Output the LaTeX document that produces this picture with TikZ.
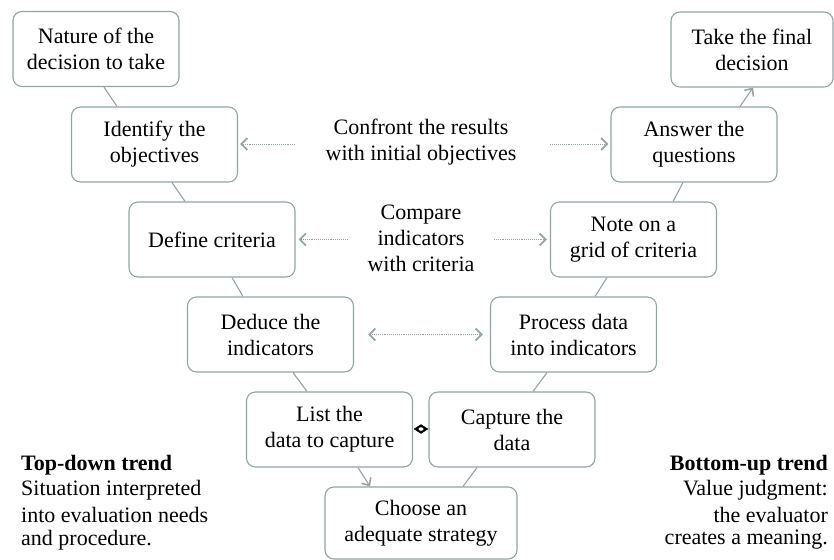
\documentclass[tikz,border=0pt]{standalone}
\usepackage{fontspec}
\newfontfamily\tnr{Liberation Serif}
\usetikzlibrary{arrows.meta,calc,shapes.geometric}
\definecolor{vline}{RGB}{146,165,165}
\begin{document}
\begin{tikzpicture}[x=1pt,y=-1pt,
  box/.style={draw=vline,line width=1.1pt,rounded corners=9pt,fill=white,
    minimum width=166pt,minimum height=75pt,align=center,inner sep=2pt,
    font=\tnr\fontsize{22}{26}\selectfont},
  lbl/.style={align=center,font=\tnr\fontsize{22}{26}\selectfont,inner sep=1pt},
  side/.style={font=\tnr\fontsize{22}{25}\selectfont,inner sep=0pt},
  conn/.style={draw=vline,line width=1.1pt},
  tip/.style={-{Straight Barb[length=6pt,width=11pt,line width=1.6pt]}},
  dotarrow/.style={draw=vline,line width=0.9pt,densely dotted,
    -{Straight Barb[length=6pt,width=12pt,line width=1.8pt]}},
  dotboth/.style={draw=vline,line width=0.9pt,densely dotted,
    {Straight Barb[length=6pt,width=12pt,line width=1.8pt]}-{Straight Barb[length=6pt,width=12pt,line width=1.8pt]}}]
\useasboundingbox (0,0) rectangle (834,559);
% boxes
\node[box] (nat) at (96,49) {Nature of the\\decision to take};
\node[box] (ide) at (154.5,144.5) {Identify the\\objectives};
\node[box] (def) at (212,239.5) {Define criteria};
\node[box] (ded) at (270.5,334.5) {Deduce the\\indicators};
\node[box] (lst) at (329.5,429.5) {List the\\data to capture};
\node[box,minimum width=192pt,minimum height=72pt] (cho) at (421,523) {Choose an\\adequate strategy};
\node[box] (cap) at (512,429.5) {Capture the\\data};
\node[box] (pro) at (573.5,334.5) {Process data\\into indicators};
\node[box] (not) at (633.5,239.5) {Note on a\\grid of criteria};
\node[box] (ans) at (694,144.5) {Answer the\\questions};
\node[box,minimum width=162pt] (tak) at (752,49.5) {Take the final\\decision};
% middle labels
\node[lbl] (conf) at (421,142) {Confront the results\\with initial objectives};
\node[lbl] (comp) at (421,238) {Compare\\indicators\\with criteria};
% V connectors (left side going down)
\draw[conn] ($(nat.south)+(8,0)$) -- ($(ide.north)+(-37.5,0)$);
\draw[conn] ($(ide.south)+(17.5,0)$) -- ($(def.north)+(-27,0)$);
\draw[conn] ($(def.south)+(20,0)$) -- ($(ded.north)+(-27.5,0)$);
\draw[conn] ($(ded.south)+(22.5,0)$) -- ($(lst.north)+(-22.5,0)$);
\draw[conn,tip] ($(lst.south)+(28.5,0)$) -- ($(cho.north)+(-51,0)$);
% right side going up
\draw[conn] ($(cho.north)+(42,0)$) -- ($(cap.south)+(-35,0)$);
\draw[conn] ($(cap.north)+(21,0)$) -- ($(pro.south)+(-26.5,0)$);
\draw[conn] ($(pro.north)+(21.5,0)$) -- ($(not.south)+(-26.5,0)$);
\draw[conn] ($(not.north)+(39.5,0)$) -- ($(ans.south)+(-11,0)$);
\draw[conn,tip] ($(ans.north)+(46,0)$) -- ($(tak.south)+(1,0)$);
% dotted arrows
\draw[dotarrow] ($(ide.east|-conf)+(57,2)$) -- ($(ide.east|-conf)+(2,2)$);
\draw[dotarrow] ($(ans.west|-conf)+(-60,2)$) -- ($(ans.west|-conf)+(-2,2)$);
\draw[dotarrow] ($(def.east)+(52,0)$) -- ($(def.east)+(3,0)$);
\draw[dotarrow] ($(not.west)+(-56,0)$) -- ($(not.west)+(-3,0)$);
\draw[dotboth] ($(ded.east)+(14,0)$) -- ($(pro.west)+(-7,0)$);
% small symbol between List and Capture
\node[diamond,draw=black,fill=black,inner sep=0pt,minimum width=14pt,minimum height=9pt] (sym) at (421,429) {};
\node[ellipse,fill=white,inner sep=0pt,minimum width=5pt,minimum height=3.5pt] at (sym) {};
% side texts
\node[side,anchor=west] (td1) at (21,465) {\textbf{Top-down trend}};
\node[side,anchor=west] (td2) at (21,490) {Situation interpreted};
\node[side,anchor=west] (td3) at (21,515) {into evaluation needs};
\node[side,anchor=west] (td4) at (21,540) {and procedure.};
\node[side,anchor=east] (bu1) at (828,465) {\textbf{Bottom-up trend}};
\node[side,anchor=east] (bu2) at (828,490) {Value judgment:};
\node[side,anchor=east] (bu3) at (828,515) {the evaluator};
\node[side,anchor=east] (bu4) at (828,540) {creates a meaning.};
\end{tikzpicture}
\end{document}
